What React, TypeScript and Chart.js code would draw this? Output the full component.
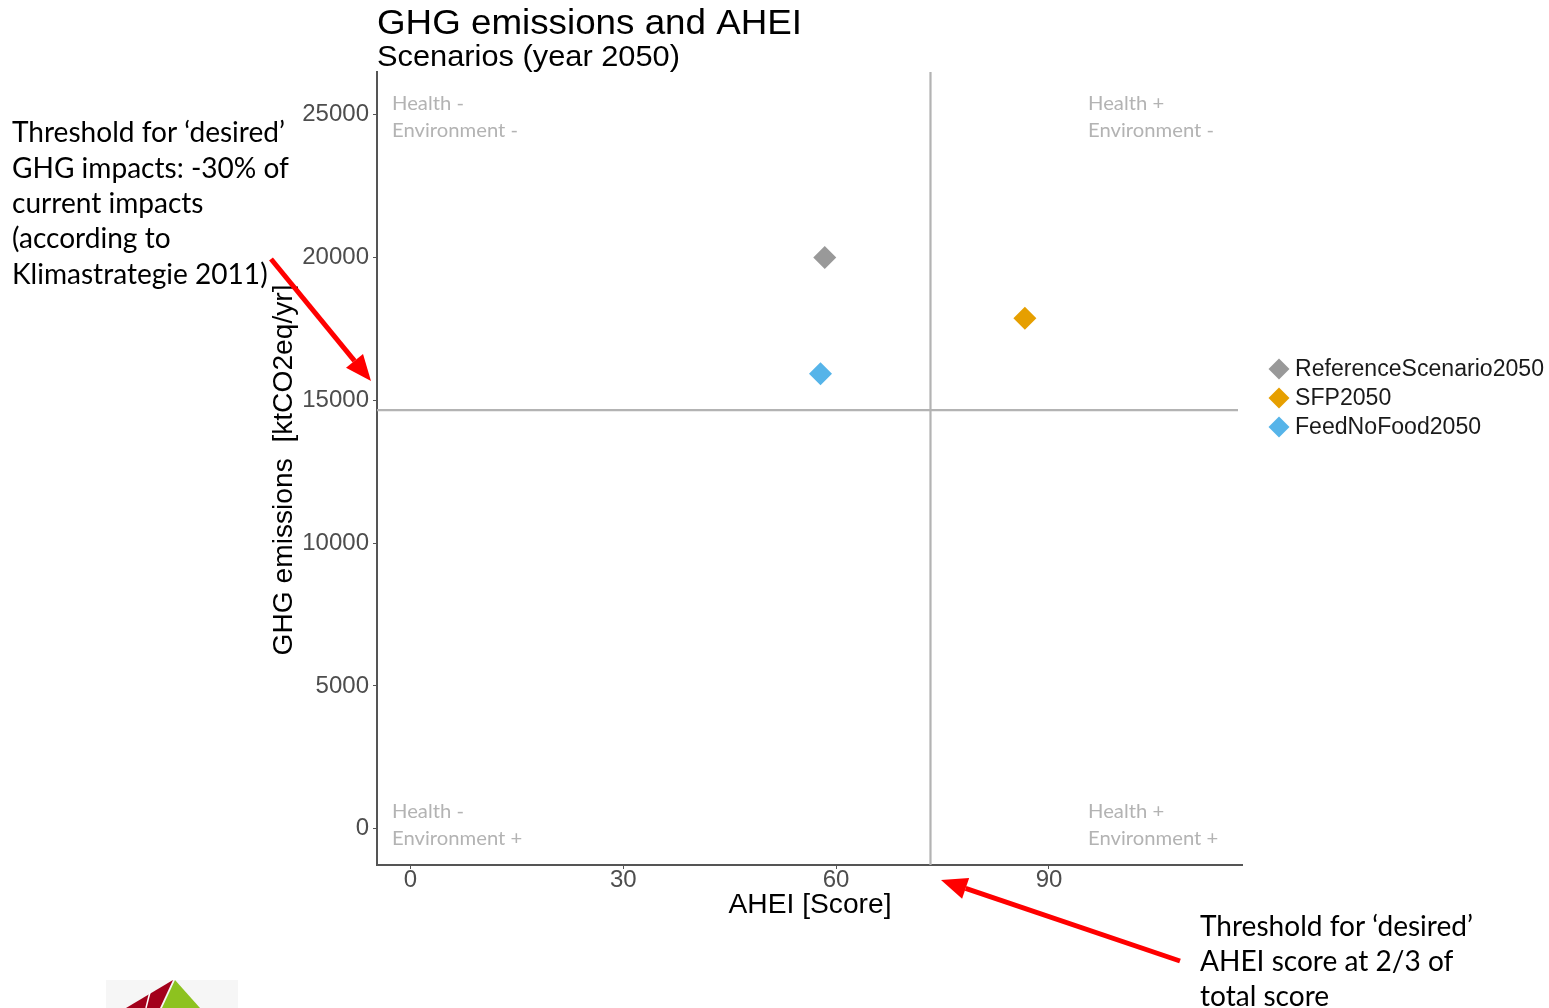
import React, { useEffect, useRef } from 'react';
import { Chart, registerables } from 'chart.js';

Chart.register(...registerables);

// ---- data ----
const seriesNames = ['ReferenceScenario2050', 'SFP2050', 'FeedNoFood2050'];
const aheiScores = [58.4, 86.6, 57.8];
const ghgEmissions = [20000, 17880, 15930];
const seriesColors = ['#999999', '#E69F00', '#56B4E9'];
const xTickValues = [0, 30, 60, 90];
const yTickValues = [0, 5000, 10000, 15000, 20000, 25000];
const aheiThreshold = 73.3;
const ghgThreshold = 14660;
const xRange = [-4.7, 117.2];
const yRange = [-1270, 26500];

const chartTitle = 'GHG emissions and AHEI';
const chartSubtitle = 'Scenarios (year 2050)';
const xAxisTitle = 'AHEI [Score]';
const yAxisTitle = 'GHG emissions  [ktCO2eq/yr]';
const quadrantTopLeft = ['Health -', 'Environment -'];
const quadrantTopRight = ['Health +', 'Environment -'];
const quadrantBottomLeft = ['Health -', 'Environment +'];
const quadrantBottomRight = ['Health +', 'Environment +'];
const leftNote = [
  'Threshold for \u2018desired\u2019',
  'GHG impacts: -30% of',
  'current impacts',
  '(according to',
  'Klimastrategie 2011)',
];
const rightNote = ['Threshold for \u2018desired\u2019', 'AHEI score at 2/3 of', 'total score'];

const SANS = '"Liberation Sans", Arial, sans-serif';
const HUMAN = 'Lato, "Open Sans", sans-serif';

function stretchFor(ctx: CanvasRenderingContext2D, text: string, font: string, target: number) {
  ctx.save();
  ctx.font = font;
  const w = ctx.measureText(text).width;
  ctx.restore();
  return w > 0 ? target / w : 1;
}

function drawText(
  ctx: CanvasRenderingContext2D,
  text: string,
  x: number,
  y: number,
  font: string,
  color: string,
  align: CanvasTextAlign = 'left',
  sx = 1,
  rotate = 0
) {
  ctx.save();
  ctx.translate(x, y);
  if (rotate) ctx.rotate(rotate);
  ctx.scale(sx, 1);
  ctx.font = font;
  ctx.fillStyle = color;
  ctx.textAlign = align;
  ctx.textBaseline = 'middle';
  ctx.fillText(text, 0, 0);
  ctx.restore();
}

function drawArrow(ctx: CanvasRenderingContext2D, x1: number, y1: number, x2: number, y2: number) {
  const ang = Math.atan2(y2 - y1, x2 - x1);
  const headLen = 26;
  const headW = 11;
  const bx = x2 - Math.cos(ang) * headLen;
  const by = y2 - Math.sin(ang) * headLen;
  ctx.save();
  ctx.strokeStyle = '#ff0000';
  ctx.fillStyle = '#ff0000';
  ctx.lineWidth = 5;
  ctx.beginPath();
  ctx.moveTo(x1, y1);
  ctx.lineTo(bx, by);
  ctx.stroke();
  ctx.beginPath();
  ctx.moveTo(x2, y2);
  ctx.lineTo(bx + Math.sin(ang) * headW, by - Math.cos(ang) * headW);
  ctx.lineTo(bx - Math.sin(ang) * headW, by + Math.cos(ang) * headW);
  ctx.closePath();
  ctx.fill();
  ctx.restore();
}

function drawDiamond(ctx: CanvasRenderingContext2D, x: number, y: number, r: number, color: string) {
  ctx.save();
  ctx.fillStyle = color;
  ctx.beginPath();
  ctx.moveTo(x - r, y);
  ctx.lineTo(x, y - r);
  ctx.lineTo(x + r, y);
  ctx.lineTo(x, y + r);
  ctx.closePath();
  ctx.fill();
  ctx.restore();
}

const overlayPlugin = {
  id: 'overlay',
  beforeDatasetsDraw(chart: any) {
    const { ctx, chartArea: a, scales } = chart;
    const px = scales.x.getPixelForValue(aheiThreshold);
    const py = scales.y.getPixelForValue(ghgThreshold);
    ctx.save();
    ctx.strokeStyle = '#b3b3b3';
    ctx.lineWidth = 2.2;
    ctx.beginPath();
    ctx.moveTo(px, a.top);
    ctx.lineTo(px, a.bottom);
    ctx.moveTo(a.left, py);
    ctx.lineTo(a.right - 4, py);
    ctx.stroke();
    ctx.restore();
  },
  afterDraw(chart: any) {
    const { ctx, chartArea: a } = chart;
    // titles
    const tFont = `35px ${SANS}`;
    drawText(ctx, chartTitle, a.left, 24, tFont, '#000', 'left', stretchFor(ctx, chartTitle, tFont, 425));
    const sFont = `29px ${SANS}`;
    drawText(ctx, chartSubtitle, a.left, 58, sFont, '#000', 'left', stretchFor(ctx, chartSubtitle, sFont, 303));
    // axis titles
    const axFont = `27px ${SANS}`;
    drawText(ctx, xAxisTitle, 810, 906, axFont, '#000', 'center', stretchFor(ctx, xAxisTitle, axFont, 163));
    drawText(ctx, yAxisTitle, 285, 470, axFont, '#000', 'center', stretchFor(ctx, yAxisTitle, axFont, 371), -Math.PI / 2);

    // quadrant labels
    const qFont = `20px ${HUMAN}`;
    const qs = stretchFor(ctx, 'Environment -', qFont, 126);
    const qc = '#b3b3b3';
    const quads: [string[], number, number][] = [
      [quadrantTopLeft, a.left + 15, 104],
      [quadrantTopRight, 1088, 104],
      [quadrantBottomLeft, a.left + 15, 812],
      [quadrantBottomRight, 1088, 812],
    ];
    quads.forEach(([lines, x, y]) => {
      lines.forEach((t, i) => drawText(ctx, t, x, y + i * 27, qFont, qc, 'left', qs));
    });

    // legend
    const lFont = `23px ${SANS}`;
    const ls = stretchFor(ctx, seriesNames[0], lFont, 249);
    seriesNames.forEach((name, i) => {
      const yy = 369 + i * 29;
      drawDiamond(ctx, 1279, yy, 10.5, seriesColors[i]);
      drawText(ctx, name, 1295, yy + 1, lFont, '#1a1a1a', 'left', ls);
    });

    // notes
    const nFont = `29px ${HUMAN}`;
    const ns = stretchFor(ctx, leftNote[0], nFont, 273);
    leftNote.forEach((t, i) => drawText(ctx, t, 12, 133 + i * 35.3, nFont, '#000', 'left', ns));
    rightNote.forEach((t, i) => drawText(ctx, t, 1200, 927 + i * 35, nFont, '#000', 'left', ns));

    // arrows
    drawArrow(ctx, 271, 259, 371, 381);
    drawArrow(ctx, 1180, 961, 941, 880);

    // logo fragment
    ctx.save();
    ctx.fillStyle = '#f6f6f6';
    ctx.fillRect(106, 980, 132, 28);
    ctx.fillStyle = '#8dc21f';
    ctx.beginPath();
    ctx.moveTo(175, 980);
    ctx.lineTo(200, 1008);
    ctx.lineTo(162, 1008);
    ctx.closePath();
    ctx.fill();
    ctx.fillStyle = '#a3001b';
    ctx.beginPath();
    ctx.moveTo(173, 980);
    ctx.lineTo(160, 1008);
    ctx.lineTo(126, 1008);
    ctx.closePath();
    ctx.fill();
    ctx.strokeStyle = '#ffffff';
    ctx.lineWidth = 1.5;
    ctx.beginPath();
    ctx.moveTo(150, 992);
    ctx.lineTo(146, 1008);
    ctx.stroke();
    ctx.restore();
  },
};

export default function App() {
  const ref = useRef<HTMLCanvasElement | null>(null);

  useEffect(() => {
    if (!ref.current) return;
    const tickFont = { family: SANS, size: 24 };
    const chart = new Chart(ref.current, {
      type: 'scatter',
      data: {
        datasets: seriesNames.map((name, i) => ({
          label: name,
          data: [{ x: aheiScores[i], y: ghgEmissions[i] }],
          backgroundColor: seriesColors[i],
          borderColor: seriesColors[i],
          pointStyle: 'rectRot',
          pointRadius: 11.5,
          pointBorderWidth: 0,
          showLine: false,
        })),
      },
      options: {
        responsive: false,
        animation: false,
        devicePixelRatio: 1,
        layout: { padding: { left: 0, top: 72, right: 307, bottom: 0 } },
        plugins: {
          legend: { display: false },
          tooltip: { enabled: false },
          title: { display: false },
        },
        scales: {
          x: {
            type: 'linear',
            min: xRange[0],
            max: xRange[1],
            afterBuildTicks: (s: any) => {
              s.ticks = xTickValues.map((v) => ({ value: v }));
            },
            afterFit: (s: any) => {
              s.height = 143;
            },
            grid: { drawOnChartArea: false, drawTicks: true, tickLength: 4, color: '#555555' },
            border: { display: true, color: '#555555', width: 2 },
            ticks: { font: tickFont, color: '#4d4d4d', padding: -3, maxRotation: 0, autoSkip: false },
          },
          y: {
            type: 'linear',
            min: yRange[0],
            max: yRange[1],
            afterBuildTicks: (s: any) => {
              s.ticks = yTickValues.map((v) => ({ value: v }));
            },
            afterFit: (s: any) => {
              s.width = 377;
            },
            grid: { drawOnChartArea: false, drawTicks: true, tickLength: 4, color: '#555555' },
            border: { display: true, color: '#555555', width: 2 },
            ticks: { font: tickFont, color: '#4d4d4d', padding: 4, autoSkip: false, callback: (v: any) => String(v) },
          },
        },
      },
      plugins: [overlayPlugin],
    } as any);
    return () => chart.destroy();
  }, []);

  return (
    <div style={{ position: 'absolute', left: 0, top: 0, width: 1549, height: 1008, background: '#fff' }}>
      <canvas ref={ref} width={1549} height={1008} style={{ width: 1549, height: 1008, display: 'block' }} />
    </div>
  );
}
